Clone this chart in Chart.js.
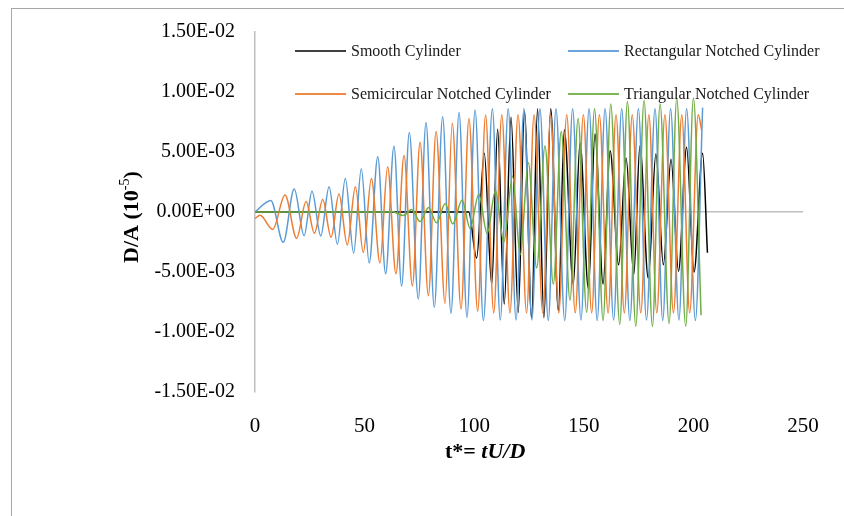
<!DOCTYPE html>
<html>
<head>
<meta charset="utf-8">
<script src="https://cdn.jsdelivr.net/npm/chart.js"></script>
<style>
  body { margin: 0; background: #fff; }
  canvas { display: block; }
</style>
</head>
<body>
<canvas id="chart" width="844" height="516"></canvas>
<script>
// extrema, t* on x, D/A in units of 1e-3
var smoothT = [0, 97.5, 101.1, 104.6, 108, 110.7, 113.7, 116.8, 120.1, 122.9, 126.2, 128.9, 131.8, 134.9, 138.4, 141.1, 145.2, 148.3, 152.1, 155.1, 158.8, 162, 165.9, 169.3, 172.8, 175.6, 179.4, 182.9, 186.3, 189.8, 193.2, 196.9, 200.3, 204.2, 206.4];
var smoothV = [0, 0, -3.84, 4.9, -6.03, 6.9, -7.67, 7.9, -8.36, 8.4, -8.8, 8.6, -8.8, 8.6, -8.2, 6.85, -6.0, 5.75, -6.4, 6.5, -6.0, 5.1, -4.4, 4.5, -5.2, 5.5, -5.5, 4.85, -4.4, 4.4, -4.93, 5.4, -5.0, 4.9, -3.4];

var rectT = [0, 7.2, 12.9, 17.9, 22.4, 26, 30, 33.8, 37.6, 41.2, 45, 48.5, 52.1, 56, 59.6, 63.4, 66.9, 70.4, 74.5, 78, 81.8, 85.6, 89.4, 93.1, 96.7, 100.4, 104.2, 108.3, 111.9, 115.5, 119.1, 122.7, 126.3, 130, 133.8, 137.3, 141.3, 144.9, 148.7, 152.4, 156.1, 159.7, 163.6, 167.3, 171, 174.9, 178.6, 182.5, 186, 189.6, 193.4, 196.9, 200.9, 204.2];
var rectV = [0, 0.96, -2.52, 1.92, -1.97, 1.72, -2.0, 2.1, -2.68, 2.8, -3.43, 3.6, -4.25, 4.6, -5.15, 5.48, -6.16, 6.63, -7.26, 7.45, -7.94, 7.94, -8.44, 8.3, -8.77, 8.49, -9.04, 8.6, -9.0, 8.6, -9.0, 8.6, -9.0, 8.6, -9.05, 8.6, -9.05, 8.6, -9.0, 8.6, -9.05, 8.6, -9.0, 8.6, -9.05, 8.6, -9.0, 8.6, -9.05, 8.6, -9.0, 8.6, -9.05, 8.7];

var semiT = [0, 2.3, 8.1, 13.7, 19, 23.3, 27.1, 30.9, 34.7, 38.3, 42.1, 45.8, 49.4, 53.1, 57, 60.5, 64.3, 68, 71.8, 75.3, 79.1, 82.6, 86.7, 90, 94, 97.6, 101.6, 105.2, 108.9, 112.6, 116.3, 120, 123.9, 127.3, 131.3, 134.9, 138.6, 142.2, 146.1, 149.8, 153.6, 157.1, 161.1, 164.7, 168.5, 172.1, 176, 179.7, 183.3, 187, 190.9, 194.7, 198.3, 202.2, 203.8];
var semiV = [-0.55, -0.27, -1.45, 1.42, -2.19, 0.88, -1.78, 1.04, -2.1, 1.5, -2.74, 2.1, -3.37, 2.8, -4.25, 3.78, -5.15, 4.71, -6.16, 5.81, -6.98, 6.71, -7.62, 7.4, -8.08, 7.8, -8.27, 8.08, -8.4, 8.1, -8.4, 8.1, -8.4, 8.1, -8.4, 8.1, -8.4, 8.1, -8.4, 8.1, -8.4, 8.1, -8.4, 8.1, -8.4, 8.1, -8.4, 8.1, -8.4, 8.1, -8.4, 8.1, -8.4, 8.1, 6.8];

var triT = [0, 60, 62.4, 67.7, 71.5, 75.3, 79.2, 82.8, 86.8, 90.2, 94.5, 98.1, 102.1, 105.9, 109.7, 113.5, 117.5, 121, 124.7, 128.5, 132.3, 136.1, 139.7, 143.7, 147.4, 151.3, 154.9, 158.8, 162.3, 166.4, 169.9, 173.7, 177.5, 181.3, 184.8, 188.9, 192.4, 196.5, 200, 203.5];
var triV = [0, 0, 0.05, -0.3, 0.2, -0.8, 0.38, -0.9, 0.7, -1.0, 1.0, -1.37, 1.48, -1.8, 1.8, -2.5, 3.0, -3.56, 4.1, -4.66, 5.5, -6.0, 6.7, -7.34, 7.8, -8.36, 8.6, -9.04, 9.0, -9.37, 9.2, -9.53, 9.3, -9.53, 9.0, -9.3, 9.45, -9.53, 9.5, -8.6];

var seriesNames = ['Smooth Cylinder', 'Rectangular Notched Cylinder', 'Semicircular Notched Cylinder', 'Triangular Notched Cylinder'];
var seriesColors = ['#000000', '#5B9BD5', '#ED7D31', '#70AD47'];
var xTicks = [0, 50, 100, 150, 200, 250];
var yTicks = [-0.015, -0.01, -0.005, 0, 0.005, 0.01, 0.015];

function toPoints(ts, vs) {
    return ts.map(function(t, i) { return { x: t, y: vs[i] * 1e-3 }; });
}

function fmtE(v) {
    if (Math.abs(v) < 1e-12) v = 0;
    var parts = v.toExponential(2).toUpperCase().split('E');
    var e = parseInt(parts[1], 10);
    return parts[0] + 'E' + (e < 0 ? '-' : '+') + (Math.abs(e) < 10 ? '0' : '') + Math.abs(e);
}

var serif = "'Liberation Serif', 'Times New Roman', serif";

// frame, legend and axis titles
var decor = {
    id: 'decor',
    beforeDraw: function(chart) {
        var ctx = chart.ctx;
        ctx.save();
        ctx.fillStyle = '#fff';
        ctx.fillRect(0, 0, chart.width, chart.height);
        ctx.strokeStyle = '#a6a6a6';
        ctx.lineWidth = 1;
        ctx.strokeRect(11.5, 8.5, 1000, 1000);
        ctx.restore();
    },
    afterDraw: function(chart) {
        var ctx = chart.ctx;
        ctx.save();

        // legend, 2 x 2
        var spots = [[295, 51], [568, 51], [295, 94], [568, 94]];
        ctx.font = '16px ' + serif;
        ctx.textBaseline = 'middle';
        ctx.textAlign = 'left';
        spots.forEach(function(p, i) {
            ctx.strokeStyle = seriesColors[i];
            ctx.globalAlpha = i == 0 ? 0.75 : 0.9;
            ctx.lineWidth = 2;
            ctx.beginPath();
            ctx.moveTo(p[0], p[1]);
            ctx.lineTo(p[0] + 51, p[1]);
            ctx.stroke();
            ctx.globalAlpha = 1;
            ctx.fillStyle = '#1a1a1a';
            ctx.fillText(seriesNames[i], p[0] + 56, p[1] + 1);
        });

        // y title with superscript
        ctx.fillStyle = '#000';
        ctx.translate(138, 263);
        ctx.rotate(-Math.PI / 2);
        ctx.textBaseline = 'alphabetic';
        ctx.font = 'bold 22px ' + serif;
        var a = 'D/A (10';
        ctx.fillText(a, 0, 0);
        var x = ctx.measureText(a).width;
        ctx.font = '14px ' + serif;
        ctx.fillText('-5', x, -9);
        x += ctx.measureText('-5').width;
        ctx.font = 'bold 22px ' + serif;
        ctx.fillText(')', x, 0);
        ctx.setTransform(1, 0, 0, 1, 0, 0);

        // x title
        ctx.font = 'bold 22px ' + serif;
        var b = 't*= ';
        ctx.fillText(b, 445, 458);
        var bx = 445 + ctx.measureText(b).width;
        ctx.font = 'bold italic 22px ' + serif;
        ctx.fillText('tU/D', bx, 458);

        ctx.restore();
    }
};

var allT = [smoothT, rectT, semiT, triT];
var allV = [smoothV, rectV, semiV, triV];

var datasets = seriesNames.map(function(name, i) {
    return {
        label: name,
        data: toPoints(allT[i], allV[i]),
        borderColor: seriesColors[i],
        borderWidth: 1.5,
        pointRadius: 0,
        fill: false,
        cubicInterpolationMode: 'monotone',
        order: 3 - i
    };
});

new Chart(document.getElementById('chart').getContext('2d'), {
    type: 'line',
    data: { datasets: datasets },
    options: {
        responsive: false,
        animation: false,
        devicePixelRatio: 1,
        layout: { padding: { top: 27, right: 41, bottom: 0, left: 0 } },
        plugins: {
            legend: { display: false },
            tooltip: { enabled: false }
        },
        scales: {
            x: {
                type: 'linear',
                min: 0,
                max: 250,
                afterBuildTicks: function(s) { s.ticks = xTicks.map(function(v) { return { value: v }; }); },
                afterFit: function(s) { s.height = 124; },
                ticks: {
                    color: '#000',
                    padding: 22,
                    font: { family: serif, size: 21 }
                },
                grid: { display: false, drawTicks: false },
                border: { display: false }
            },
            y: {
                min: -0.015,
                max: 0.015,
                afterBuildTicks: function(s) { s.ticks = yTicks.map(function(v) { return { value: v }; }); },
                afterFit: function(s) { s.width = 255; },
                ticks: {
                    color: '#000',
                    padding: 20,
                    font: { family: serif, size: 20 },
                    callback: function(v) { return fmtE(v); }
                },
                grid: {
                    drawTicks: false,
                    lineWidth: 1.5,
                    color: function(c) { return c.tick && Math.abs(c.tick.value) < 1e-9 ? '#bfbfbf' : 'rgba(0,0,0,0)'; }
                },
                border: { display: true, color: '#bfbfbf', width: 1.5 }
            }
        }
    },
    plugins: [decor]
});
</script>
</body>
</html>
